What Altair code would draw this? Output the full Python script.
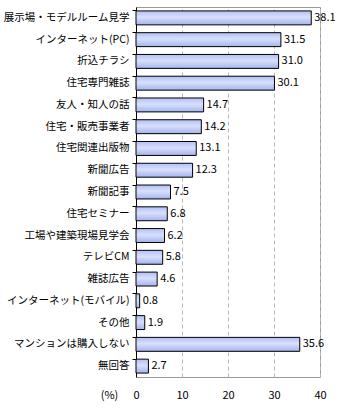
import altair as alt
import pandas as pd

categories = ["展示場・モデルルーム見学", "インターネット(PC)", "折込チラシ", "住宅専門雑誌",
              "友人・知人の話", "住宅・販売事業者", "住宅関連出版物", "新聞広告", "新聞記事",
              "住宅セミナー", "工場や建築現場見学会", "テレビCM", "雑誌広告",
              "インターネット(モバイル)", "その他", "マンションは購入しない", "無回答"]
values = [38.1, 31.5, 31.0, 30.1, 14.7, 14.2, 13.1, 12.3, 7.5, 6.8, 6.2, 5.8, 4.6, 0.8, 1.9, 35.6, 2.7]
x_ticks = [0, 10, 20, 30, 40]

df = pd.DataFrame({"cat": categories, "val": values,
                   "lab": [f"{v:.1f}" for v in values]})

FONT = "Noto Sans CJK JP"

y_enc = alt.Y("cat:N", sort=categories,
              scale=alt.Scale(paddingInner=0.36, paddingOuter=0.18),
              axis=alt.Axis(title=None, labelFont=FONT, labelFontSize=10.5, labelColor="#000",
                            domainColor="#000", tickColor="#000", tickSize=4, bandPosition=0,
                            labelPadding=3, labelLimit=200))
x_enc = alt.X("val:Q", scale=alt.Scale(domain=[0, 40], nice=False),
              axis=alt.Axis(values=x_ticks, title="(%)", titleFont=FONT, titleFontSize=11,
                            titleFontWeight="normal", titleX=-27, titleY=18, titleBaseline="middle",
                            titleColor="#000",
                            labelFont=FONT, labelFontSize=11, labelColor="#000",
                            labelPadding=12, domain=False, ticks=False, grid=True,
                            gridDash=[4, 3], gridColor="#b8b8b8", labelFlush=False))

grad = alt.Gradient(gradient="linear", x1=0, x2=0, y1=0, y2=1,
                    stops=[alt.GradientStop(color="#b2c0f4", offset=0),
                           alt.GradientStop(color="#d8e0fd", offset=0.45),
                           alt.GradientStop(color="#a4b4ec", offset=1)])

bars = alt.Chart(df).mark_bar(color=grad, stroke="#000", strokeWidth=1).encode(x=x_enc, y=y_enc)
text = alt.Chart(df).mark_text(align="left", dx=3, font=FONT, fontSize=11, color="#000").encode(
    x="val:Q", y=alt.Y("cat:N", sort=categories), text="lab:N")

chart = (bars + text).properties(
    width=184, height=370,
    autosize=alt.AutoSizeParams(type="none"),
    padding={"left": 136, "top": 7, "right": 20, "bottom": 33},
    background="#ffffff",
).configure_view(stroke="#999999", strokeWidth=1)

chart.save("out.html", embed_options={"renderer": "svg", "actions": False})
